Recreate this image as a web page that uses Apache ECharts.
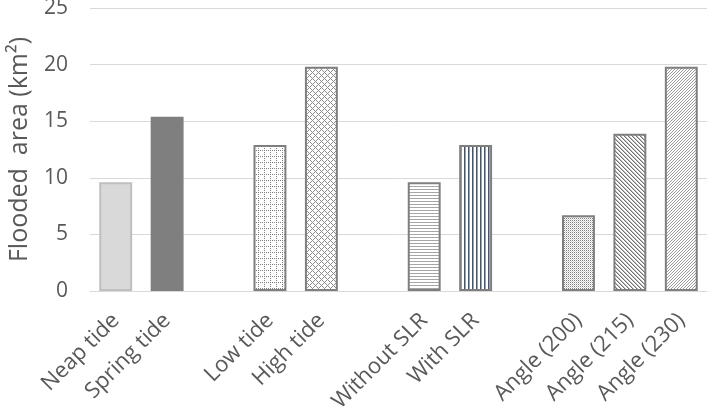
<!DOCTYPE html>
<html>
<head>
<meta charset="utf-8">
<script src="https://cdn.jsdelivr.net/npm/echarts@6/dist/echarts.min.js"></script>
<style>html,body{margin:0;padding:0;background:#fff;}#c{width:712px;height:407px;}</style>
</head>
<body>
<div id="c"></div>
<script>
const categories = ['Neap tide','Spring tide','','Low tide','High tide','','Without SLR','With SLR','','Angle (200)','Angle (215)','Angle (230)'];
const values = [9.6, 15.4, null, 12.9, 19.8, null, 9.6, 12.9, null, 6.7, 13.9, 19.8];
const yTicks = [0, 5, 10, 15, 20, 25];

function pat(w, h, bg, draw) {
  const c = document.createElement('canvas');
  c.width = w; c.height = h;
  const g = c.getContext('2d');
  g.fillStyle = bg; g.fillRect(0, 0, w, h);
  draw(g);
  return { image: c, repeat: 'repeat' };
}
const px = (g, col, pts) => { g.fillStyle = col; pts.forEach(p => g.fillRect(p[0], p[1], 1, 1)); };

const fills = [
  '#d9d9d9',
  '#7f7f7f',
  null,
  pat(6, 6, '#fff', g => { const p=[]; for (let i=0;i<6;i+=2){p.push([0,i]);p.push([i,0]);} px(g,'#7f7f7f',p); }),
  pat(6, 6, '#fff', g => { const p=[]; for (let i=0;i<6;i++){p.push([i,i]);p.push([i,(6-i)%6]);} px(g,'#8c8c8c',p); }),
  null,
  pat(1, 3, '#fff', g => { px(g,'#a6a6a6',[[0,0]]); }),
  pat(4, 1, '#fff', g => { px(g,'#44546a',[[0,0]]); px(g,'#9aa3b0',[[1,0]]); }),
  null,
  pat(2, 2, '#fff', g => { px(g,'#7f7f7f',[[0,0]]); px(g,'#d0d0d0',[[1,1]]); }),
  pat(4, 4, '#fff', g => { const p=[]; for (let i=0;i<4;i++){p.push([i,i]);} px(g,'#6f6f6f',p); px(g,'#c0c0c0',[[1,0],[2,1],[3,2],[0,3]]); }),
  pat(3, 3, '#fff', g => { const p=[]; for (let i=0;i<3;i++){p.push([i,2-i]);} px(g,'#9a9a9a',p); }),
];
const borders = ['#bfbfbf','#7f7f7f',null,'#7f7f7f','#7f7f7f',null,'#7f7f7f','#7f7f7f',null,'#7f7f7f','#7f7f7f','#7f7f7f'];

const data = values.map((v, i) => v == null ? '-' : ({
  value: v,
  itemStyle: { color: fills[i], borderColor: borders[i], borderWidth: 2 }
}));

const FONT = 'Open Sans';
const chart = echarts.init(document.getElementById('c'), null, { renderer: 'canvas' });
chart.setOption({
  animation: false,
  grid: { left: 90, right: 5, top: 8, bottom: 116, containLabel: false, outerBoundsMode: 'none' },
  xAxis: {
    type: 'category',
    data: categories,
    axisLine: { lineStyle: { color: '#d9d9d9', width: 1 } },
    axisTick: { show: false },
    axisLabel: { interval: 0, rotate: 45, margin: 26, fontSize: 22, color: '#595959', fontFamily: FONT }
  },
  yAxis: {
    type: 'value',
    min: yTicks[0], max: yTicks[yTicks.length - 1], interval: 5,
    name: 'Flooded  area (km²)',
    nameLocation: 'middle',
    nameGap: 58,
    nameTextStyle: { fontSize: 25, color: '#595959', fontFamily: FONT },
    axisLine: { show: false },
    axisTick: { show: false },
    axisLabel: { fontSize: 21, color: '#595959', margin: 22, fontFamily: FONT },
    splitLine: { lineStyle: { color: '#d9d9d9', width: 1 } }
  },
  series: [{
    type: 'bar',
    data: data,
    barCategoryGap: '36%'
  }]
});
</script>
</body>
</html>
